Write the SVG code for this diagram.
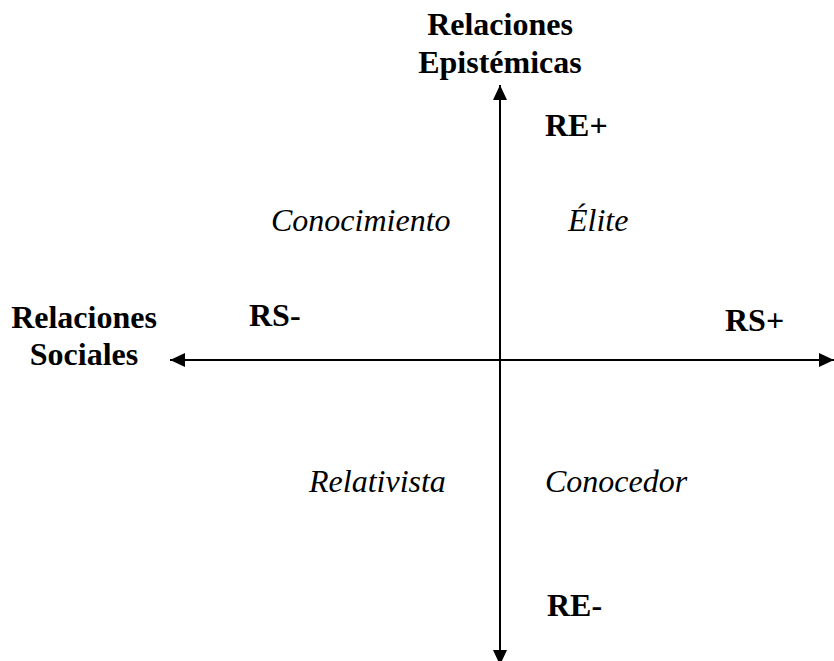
<svg xmlns="http://www.w3.org/2000/svg" width="834" height="661" viewBox="0 0 834 661">
<style>
.b{font-family:"Liberation Serif","Times New Roman",serif;font-weight:bold;font-size:32px;fill:#000}
.i{font-family:"Liberation Serif","Times New Roman",serif;font-style:italic;font-size:32px;fill:#000}
.ax{stroke:#000;stroke-width:2;fill:none}
</style>
<defs>
<marker id="ah" viewBox="0 0 15 14" refX="15" refY="7" markerWidth="15" markerHeight="14" orient="auto" markerUnits="userSpaceOnUse">
<path d="M0,0 L15,7 L0,14 Z" fill="#000"/>
</marker>
</defs>
<g id="connectors">
<line class="ax" x1="500" y1="360" x2="500" y2="85" marker-end="url(#ah)"/>
<line class="ax" x1="500" y1="360" x2="500" y2="665" marker-end="url(#ah)"/>
<line class="ax" x1="500" y1="360" x2="170" y2="360" marker-end="url(#ah)"/>
<line class="ax" x1="500" y1="360" x2="834" y2="360" marker-end="url(#ah)"/>
</g>
<g id="re-title"><text class="b" x="500" y="35" text-anchor="middle">Relaciones</text><text class="b" x="500" y="73" text-anchor="middle">Epistémicas</text></g>
<g id="rs-title"><text class="b" x="84" y="328" text-anchor="middle">Relaciones</text><text class="b" x="84" y="365" text-anchor="middle">Sociales</text></g>
<g id="re-plus"><text class="b" x="545" y="136">RE+</text></g>
<g id="re-minus"><text class="b" x="547" y="616">RE-</text></g>
<g id="rs-minus"><text class="b" x="249" y="326">RS-</text></g>
<g id="rs-plus"><text class="b" x="725" y="331">RS+</text></g>
<g id="conocimiento"><text class="i" x="271" y="231">Conocimiento</text></g>
<g id="elite"><text class="i" x="568" y="231">Élite</text></g>
<g id="relativista"><text class="i" x="309" y="492">Relativista</text></g>
<g id="conocedor"><text class="i" x="545" y="492">Conocedor</text></g>
</svg>
